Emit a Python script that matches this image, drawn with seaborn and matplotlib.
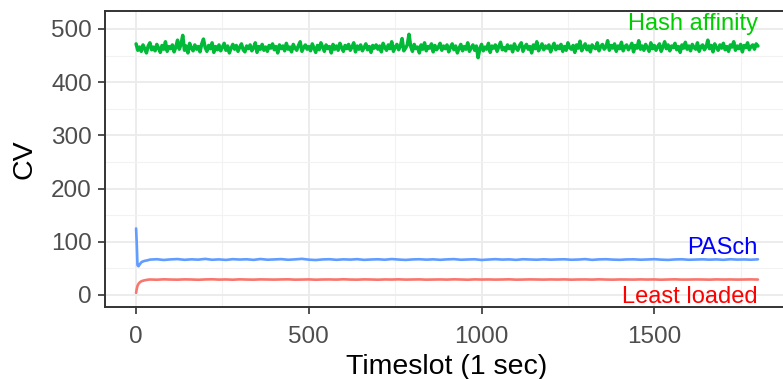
import numpy as np
import pandas as pd
import matplotlib
matplotlib.use("Agg")
import matplotlib.pyplot as plt
import seaborn as sns
from matplotlib.ticker import MultipleLocator

# ---- data ----
series_names = ["Least loaded", "Hash affinity", "PASch"]
line_colors = ["#F8766D", "#00BA38", "#619CFF"]
label_colors = ["#FF0000", "#00CD00", "#0000FF"]

hash_times = list(range(0, 1801, 5))
hash_values = [
    472, 460, 466, 458, 470, 463, 455, 468, 474, 461, 466, 459, 471, 464, 456, 469, 462, 476, 458, 467,
    463, 470, 457, 466, 479, 462, 471, 488, 460, 468, 455, 473, 464, 459, 470, 462, 467, 457, 472, 481,
    465, 458, 469, 463, 474, 456, 467, 461, 470, 459, 466, 473, 460, 468, 455, 464, 471, 462, 469, 458,
    466, 472, 461, 457, 468, 463, 470, 459, 465, 474, 456, 467, 462, 471, 460, 466, 458, 469, 464, 472,
    461, 467, 455, 470, 463, 468, 459, 473, 462, 466, 457, 471, 464, 460, 469, 476, 458, 465, 470, 462,
    467, 459, 472, 464, 456, 469, 461, 474, 466, 458, 470, 463, 467, 455, 471, 462, 468, 460, 473, 465,
    458, 469, 463, 471, 460, 466, 474, 457, 468, 462, 470, 459, 465, 472, 461, 467, 456, 469, 464, 470,
    462, 468, 457, 473, 465, 460, 470, 463, 476, 458, 466, 471, 461, 468, 482, 459, 464, 470, 490, 467,
    458, 471, 463, 466, 455, 470, 462, 474, 459, 467, 464, 472, 457, 469, 461, 466, 473, 460, 468, 463,
    470, 457, 466, 472, 461, 468, 455, 464, 471, 459, 467, 462, 474, 458, 465, 470, 460, 468, 446, 463,
    471, 459, 466, 462, 473, 456, 468, 464, 470, 458, 467, 475, 461, 465, 459, 470, 463, 468, 457, 472,
    464, 460, 469, 474, 458, 466, 471, 462, 467, 455, 470, 463, 476, 459, 465, 472, 461, 468, 464, 470,
    457, 466, 473, 461, 468, 463, 471, 458, 467, 460, 474, 465, 462, 469, 456, 470, 464, 477, 459, 466,
    472, 461, 468, 457, 470, 465, 463, 474, 459, 467, 471, 462, 466, 478, 460, 469, 464, 472, 458, 468,
    463, 475, 459, 467, 470, 461, 466, 473, 457, 469, 464, 478, 462, 468, 460, 471, 465, 458, 474, 463,
    469, 460, 467, 472, 458, 466, 476, 463, 470, 459, 468, 465, 473, 461, 467, 456, 470, 464, 475, 462,
    468, 459, 471, 465, 462, 474, 458, 467, 470, 461, 466, 479, 463, 469, 457, 472, 465, 460, 470, 464,
    473, 461, 467, 458, 470, 466, 476, 460, 468, 463, 471, 457, 469, 465, 474, 461, 467, 470, 462, 472,
    468,
]

start_times = [0, 2, 4, 7, 11, 16, 24, 32]
steady_times = list(range(40, 1801, 20))

pasch_start = [125, 95, 56, 54, 58, 62, 64, 65]
pasch_steady = [
    66.5, 67.2, 65.8, 66.9, 67.5, 66.1, 67.0, 66.4, 67.8, 66.2,
    66.9, 65.9, 67.3, 66.6, 67.1, 66.0, 67.6, 66.3, 66.8, 67.4,
    66.2, 66.9, 67.9, 66.4, 65.7, 66.8, 67.2, 66.1, 67.0, 66.5,
    67.3, 66.0, 66.7, 67.1, 66.3, 67.5, 66.6, 65.9, 66.8, 67.2,
    66.4, 67.0, 66.1, 66.9, 67.4, 66.2, 66.7, 67.1, 65.8, 66.6,
    67.3, 66.5, 66.9, 66.0, 67.2, 66.7, 66.3, 67.0, 66.4, 66.8,
    67.1, 66.2, 66.6, 67.4, 66.0, 66.9, 67.2, 66.5, 66.1, 66.8,
    67.0, 66.3, 66.7, 67.3, 66.4, 65.9, 66.8, 67.1, 66.2, 66.6,
    67.0, 66.4, 66.9, 66.1, 67.2, 66.5, 66.8, 66.3, 67.0,
]

least_start = [4, 12, 17, 21, 24, 26, 27.5, 28.5]
least_steady = [
    29.1, 28.7, 29.4, 29.0, 28.8, 29.3, 29.1, 28.6, 29.2, 29.5,
    28.9, 29.2, 28.7, 29.4, 29.0, 28.8, 29.3, 29.1, 28.9, 29.2,
    29.4, 28.8, 29.0, 29.3, 28.7, 29.1, 29.2, 28.9, 29.5, 29.0,
    28.8, 29.3, 29.1, 28.7, 29.2, 29.0, 29.4, 28.9, 29.1, 29.3,
    28.8, 29.0, 29.2, 28.9, 29.4, 29.1, 28.7, 29.3, 29.0, 29.2,
    28.9, 29.1, 29.4, 28.8, 29.0, 29.3, 29.1, 28.9, 29.2, 29.0,
    29.3, 28.8, 29.1, 29.2, 28.9, 29.4, 29.0, 28.8, 29.2, 29.1,
    28.9, 29.3, 29.0, 29.2, 28.7, 29.1, 29.4, 28.9, 29.0, 29.2,
    29.1, 28.8, 29.3, 29.0, 29.2, 28.9, 29.1, 29.3, 29.0,
]

label_x = 1800
label_y = [-3, 509, 88]

x_ticks = [0, 500, 1000, 1500]
y_ticks = [0, 100, 200, 300, 400, 500]

# ---- build long table ----
frames = [
    pd.DataFrame({"t": start_times + steady_times, "cv": least_start + least_steady, "policy": "Least loaded"}),
    pd.DataFrame({"t": hash_times, "cv": hash_values, "policy": "Hash affinity"}),
    pd.DataFrame({"t": start_times + steady_times, "cv": pasch_start + pasch_steady, "policy": "PASch"}),
]
df = pd.concat(frames, ignore_index=True)

sns.set_theme(style="white")
plt.rcParams["font.family"] = ["Liberation Sans", "DejaVu Sans"]

fig = plt.figure(figsize=(7.83, 3.79), dpi=100)
ax = fig.add_axes([105 / 783, (379 - 307) / 379, (789 - 105) / 783, (307 - 11) / 379])

ax.set_xlim(-90, 1890)
ax.set_ylim(-22.6, 533.8)
ax.xaxis.set_major_locator(MultipleLocator(500))
ax.xaxis.set_minor_locator(MultipleLocator(250))
ax.yaxis.set_major_locator(MultipleLocator(100))
ax.yaxis.set_minor_locator(MultipleLocator(50))
ax.grid(which="major", color="#EBEBEB", linewidth=1.3, zorder=0)
ax.grid(which="minor", color="#F2F2F2", linewidth=0.8, zorder=0)
ax.set_axisbelow(True)

palette = dict(zip(series_names, line_colors))
sns.lineplot(data=df, x="t", y="cv", hue="policy", palette=palette,
             hue_order=series_names, linewidth=1.9, ax=ax, legend=False,
             estimator=None, sort=False)
for line in ax.get_lines():
    line.set_solid_joinstyle("round")
    if line.get_color() in ("#00BA38", "#00ba38"):
        line.set_linewidth(2.5)
# thicken the noisy hash-affinity line
for line in ax.get_lines():
    xd = np.asarray(line.get_xdata())
    if len(xd) == len(hash_times):
        line.set_linewidth(2.5)

for name, col, y in zip(series_names, label_colors, label_y):
    ax.text(label_x, y, name, color=col, ha="right", va="center", fontsize=17)

for s in ax.spines.values():
    s.set_color("#333333")
    s.set_linewidth(1.4)

ax.set_xticks(x_ticks)
ax.set_yticks(y_ticks)
ax.tick_params(axis="both", which="major", length=5, width=1.2, color="#333333",
               labelcolor="#4D4D4D", labelsize=17.5, bottom=True, left=True)
ax.tick_params(axis="x", which="major", pad=9)
ax.tick_params(axis="y", which="major", pad=4.5)
ax.tick_params(axis="both", which="minor", length=0)

ax.set_xlabel("Timeslot (1 sec)", fontsize=20.5, color="black", labelpad=4)
ax.set_ylabel("CV", fontsize=20.5, color="black", labelpad=10)

fig.savefig("out.png", dpi=100)
